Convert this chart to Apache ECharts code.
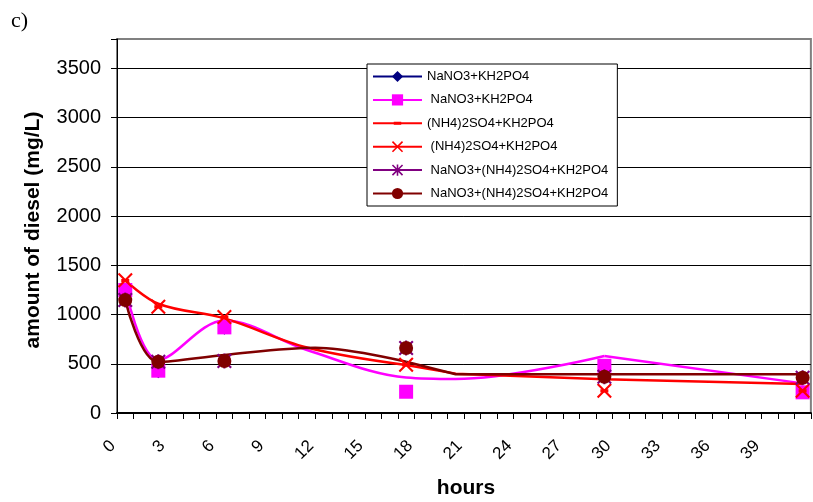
<!DOCTYPE html>
<html><head><meta charset="utf-8">
<script src="https://cdn.jsdelivr.net/npm/echarts@6/dist/echarts.min.js"></script>
<style>html,body{margin:0;padding:0;background:#fff}#c{width:813px;height:502px}</style>
</head><body><div id="c"></div>
<script>
// measured sampling times (hours) of the marker series
const markerHours = [0.5, 2.5, 6.5, 17.5, 29.5, 41.5];
const nano3Diamond = [1235, 410, 850, 216, 470, 205];
const nano3Square = [1250, 430, 870, 216, 480, 210];
const nh4Dash = [1345, 1079, 975, 490, 225, 225];
const nh4Cross = [1350, 1079, 975, 490, 225, 225];
const mixStar = [1147, 521, 528, 660, 369, 358];
const mixCircle = [1147, 521, 528, 660, 369, 358];

// trend curves
const magentaSmoothHours = [0.5, 2.5, 6.5, 11.5, 17.5, 20.5, 29.5];
const magentaSmoothVals = [1265, 540, 940, 640, 360, 345, 579];
const magentaStraightHours = [29.5, 41.5];
const magentaStraightVals = [579, 301];
const redSmoothHours = [0.5, 2.5, 6.5, 11.5, 17.5];
const redSmoothVals = [1347, 1110, 961, 665, 487];
const redStraightHours = [17.5, 20.5, 29.5, 41.5];
const redStraightVals = [487, 400, 342, 294];
const brownSmoothHours = [0.5, 2.5, 6.5, 12, 17.5];
const brownSmoothVals = [1147, 518, 590, 663, 521];
const brownStraightHours = [17.5, 20.5, 41.5];
const brownStraightVals = [521, 393, 393];

const xTickLabels = [0, 3, 6, 9, 12, 15, 18, 21, 24, 27, 30, 33, 36, 39];
const yTickLabels = [0, 500, 1000, 1500, 2000, 2500, 3000, 3500];

const seriesNames = [
  'NaNO3+KH2PO4',
  ' NaNO3+KH2PO4',
  '(NH4)2SO4+KH2PO4',
  ' (NH4)2SO4+KH2PO4',
  ' NaNO3+(NH4)2SO4+KH2PO4',
  '\u00a0NaNO3+(NH4)2SO4+KH2PO4'
];

const FONT = 'Liberation Sans, Arial, sans-serif';
const crossPath = 'path://M0,1 L1,0 L5,4 L9,0 L10,1 L6,5 L10,9 L9,10 L5,6 L1,10 L0,9 L4,5 Z';
const starPath = 'path://M0,1 L1,0 L5,4 L9,0 L10,1 L6,5 L10,9 L9,10 L5,6 L1,10 L0,9 L4,5 Z M4.3,0 L5.7,0 L5.7,10 L4.3,10 Z';
const dashPath = 'path://M0,0 L0.01,0 Z M2,4 L10,4 L10,7 L2,7 Z M12,11 L12.01,11 Z';

const pairs = (xs, ys) => xs.map((x, i) => [x, ys[i]]);

function markerSeries(name, vals, symbol, size, color) {
  return {
    name: name, type: 'line', data: pairs(markerHours, vals),
    symbol: symbol, symbolSize: size, showSymbol: true, showAllSymbol: true,
    lineStyle: { color: color, width: 2, opacity: 0 },
    itemStyle: { color: color, borderWidth: 0 },
    z: 4, silent: true, animation: false
  };
}
function curveSeries(id, xs, ys, color, smooth) {
  return {
    name: id, type: 'line', data: pairs(xs, ys), symbol: 'none', showSymbol: false,
    smooth: smooth, lineStyle: { color: color, width: 2.5 }, z: 2, silent: true, animation: false
  };
}

const chart = echarts.init(document.getElementById('c'), null, { renderer: 'canvas' });
chart.setOption({
  animation: false,
  backgroundColor: '#fff',
  grid: { left: 117, top: 39, right: -3, bottom: 89, show: true, borderColor: '#808080', borderWidth: 2, backgroundColor: 'transparent' },
  legend: {
    data: seriesNames, orient: 'vertical', left: 367, top: 64,
    itemWidth: 49, itemHeight: 14, itemGap: 10.4, padding: [6, 9, 6, 5],
    borderColor: '#000', borderWidth: 1, backgroundColor: '#fff',
    selectedMode: false,
    textStyle: { fontSize: 13, fontFamily: FONT, color: '#000' },
    lineStyle: { opacity: 1, width: 2 }
  },
  xAxis: {
    type: 'value', min: 0, max: 42, interval: 3,
    axisLine: { show: true, lineStyle: { color: '#000', width: 2 } },
    axisTick: { show: true, length: 6, lineStyle: { color: '#000', width: 1 } },
    minorTick: { show: true, splitNumber: 3, length: 6, lineStyle: { color: '#000', width: 1 } },
    splitLine: { show: false },
    axisLabel: {
      rotate: 45, margin: 26, padding: [0, 6, 0, 0], fontSize: 17, fontFamily: FONT, color: '#000',
      formatter: v => xTickLabels.includes(v) ? String(v) : ''
    }
  },
  yAxis: {
    type: 'value', min: 0, max: 3800, interval: 500,
    axisLine: { show: true, lineStyle: { color: '#000', width: 1 } },
    axisTick: { show: true, length: 6, lineStyle: { color: '#000', width: 1 } },
    splitLine: { show: true, showMaxLine: false, showMinLine: false, lineStyle: { color: '#000', width: 1 } },
    axisLabel: {
      margin: 16, fontSize: 20, fontFamily: FONT, color: '#000',
      formatter: v => yTickLabels.includes(v) ? String(v) : ''
    }
  },
  graphic: [
    { type: 'text', x: 11, y: 21, style: { text: 'c)', font: '22px "Liberation Serif", "Times New Roman", serif', fill: '#000', textVerticalAlign: 'middle' } },
    { type: 'text', x: 33, y: 230, rotation: Math.PI / 2, style: { text: 'amount of diesel (mg/L)', font: 'bold 21px ' + FONT, fill: '#000', textAlign: 'center', textVerticalAlign: 'middle' } },
    { type: 'text', x: 466, y: 488, style: { text: 'hours', font: 'bold 21px ' + FONT, fill: '#000', textAlign: 'center', textVerticalAlign: 'middle' } }
  ],
  series: [
    curveSeries('curveMagenta1', magentaSmoothHours, magentaSmoothVals, '#FF00FF', 0.35),
    curveSeries('curveMagenta2', magentaStraightHours, magentaStraightVals, '#FF00FF', false),
    curveSeries('curveRed1', redSmoothHours, redSmoothVals, '#FF0000', 0.35),
    curveSeries('curveRed2', redStraightHours, redStraightVals, '#FF0000', false),
    curveSeries('curveBrown1', brownSmoothHours, brownSmoothVals, '#800000', 0.35),
    curveSeries('curveBrown2', brownStraightHours, brownStraightVals, '#800000', false),
    markerSeries(seriesNames[0], nano3Diamond, 'diamond', 11, '#000080'),
    markerSeries(seriesNames[1], nano3Square, 'rect', 14, '#FF00FF'),
    markerSeries(seriesNames[2], nh4Dash, dashPath, 12, '#FF0000'),
    markerSeries(seriesNames[3], nh4Cross, crossPath, 15, '#FF0000'),
    markerSeries(seriesNames[4], mixStar, starPath, 15, '#800080'),
    markerSeries(seriesNames[5], mixCircle, 'circle', 14, '#800000')
  ]
});
</script></body></html>
